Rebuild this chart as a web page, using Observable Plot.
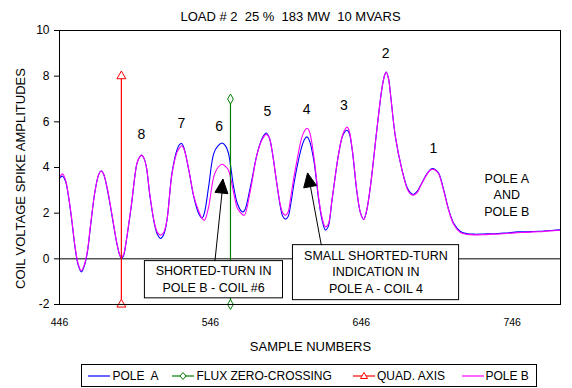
<!DOCTYPE html>
<html><head><meta charset="utf-8">
<script src="https://cdn.jsdelivr.net/npm/d3@7"></script>
<script src="https://cdn.jsdelivr.net/npm/@observablehq/plot@0.6"></script>
<style>
body{margin:0;background:#fff;font-family:"Liberation Sans",Arial,sans-serif;}
#wrap{position:relative;width:572px;height:388px;overflow:hidden;}
#wrap svg text{white-space:pre;}
#wrap svg [aria-label^="x-axis"] text{font-size:10.5px;}
#legend{position:absolute;left:81px;top:364px;width:456px;height:23px;border:1px solid #000;box-sizing:border-box;font-size:12px;background:#fff;}
.item{position:absolute;top:0;height:21px;display:flex;align-items:center;white-space:pre;}
.item svg{display:block;}
</style></head><body><div id="wrap"></div>
<script>
// ---- data ----
const samples = [446,448,450,452,454,456.5,458.5,460.5,462.5,464.5,466.5,469.5,472,473.5,475,477.5,480.5,484,486,487,488.5,490,493.5,497.3,499,500.5,502,503.5,506,509,511,513,515,517.2,520.5,523.8,525.5,527,528.5,531.7,535,538.2,540.5,542,544.8,548.2,551,553.7,556,558,561.4,564,567,568.5,572.5,577,580.5,583,585,586.8,589.7,592.4,594,595.8,597.5,599,601.4,603.4,606.5,608.5,610,611.5,614.5,617.8,620,622.2,624,626.6,631,634,636.6,638,640,643.2,645.5,647.6,649.5,652,656.5,659.8,661.5,662.5,664,665.3,668.6,673,676.5,678.5,680.5,683,685.3,689.7,692,693.6,695.5,697.4,700.7,704,707.3,711.7,716.2,721,727.3,733,738.3,744,749.3,755,760.3,767,774.7,777.5];
const poleA = [3.52,3.62,3.4,2.71,1.75,0.4,-0.3,-0.57,-0.3,0.3,1.4,2.95,3.7,3.85,3.75,3.1,2.0,0.67,0.15,0.02,0.15,0.67,2.27,4.17,4.45,4.54,4.4,4.05,2.71,1.5,1.05,0.89,1.05,1.69,3.74,4.76,5.0,5.05,4.85,3.88,2.71,1.99,1.79,2.0,3.15,4.61,4.95,5.07,4.95,4.61,3.15,2.4,2.06,2.1,3.15,4.61,5.3,5.51,5.3,4.76,3.44,2.27,1.85,1.74,1.85,2.3,3.3,4.02,4.9,5.25,5.34,5.2,4.32,2.57,1.7,1.26,1.4,2.57,4.61,5.45,5.63,5.5,4.76,2.86,2.0,1.72,2.1,3.15,5.77,7.52,8.05,8.18,7.9,7.23,5.34,3.88,3.1,2.9,2.82,2.95,3.22,3.74,3.92,3.95,3.88,3.74,3.0,2.13,1.55,1.2,1.1,1.08,1.09,1.1,1.12,1.14,1.18,1.18,1.2,1.22,1.26,1.27];
const poleB = [3.55,3.72,3.45,2.75,1.8,0.45,-0.25,-0.52,-0.25,0.35,1.45,2.95,3.7,3.85,3.75,3.15,2.05,0.7,0.15,0.05,0.2,0.7,2.3,4.17,4.45,4.54,4.4,4.05,2.75,1.55,1.15,1.04,1.15,1.7,3.7,4.65,4.85,4.95,4.8,3.9,2.75,2.1,1.76,1.69,2.27,3.59,4.0,4.14,4.05,3.88,2.9,2.2,1.95,1.91,3.0,4.6,5.25,5.45,5.3,4.76,3.44,2.35,2.0,1.91,2.05,2.6,3.6,4.32,5.3,5.62,5.72,5.6,4.5,2.65,1.8,1.4,1.5,2.6,4.61,5.5,5.77,5.6,4.8,2.9,2.0,1.72,2.1,3.15,5.77,7.52,8.05,8.18,7.9,7.23,5.34,3.88,3.05,2.85,2.79,2.9,3.2,3.72,3.9,3.92,3.86,3.7,2.95,2.1,1.5,1.15,1.07,1.05,1.06,1.08,1.09,1.12,1.14,1.16,1.18,1.2,1.24,1.25];
const fluxX = [559.3, 559.3];
const fluxY = [-2, 7];
const quadX = [487, 487];
const quadY = [-2, 8];
const xTicks = [446, 546, 646, 746];
const yTicks = [-2, 0, 2, 4, 6, 8, 10];
const xDomain = [446, 778];
const yDomain = [-2, 10];
const coilLabels = ["8","7","6","5","4","3","2","1"];
const coilX = [500.2, 526.7, 551.8, 583.7, 609.7, 634.4, 662.2, 693.8];
const coilY = [5.45, 5.92, 5.8, 6.47, 6.54, 6.72, 8.99, 4.83];
const noteTexts = ["SHORTED-TURN IN\nPOLE B - COIL #6", "SMALL SHORTED-TURN\nINDICATION IN\nPOLE A - COIL 4", "POLE A\nAND\nPOLE B"];
const noteX = [548.1, 655.7, 742.4];
const noteY = [-0.857, -0.54, 2.83];
const boxX1 = [502.6, 600.7];
const boxX2 = [594.1, 710.8];
const boxY1 = [-0.1, 0.6];
const boxY2 = [-1.73, -1.81];
const arrowFromX = [549.0, 619.5];
const arrowFromY = [-0.1, 0.6];
const arrowTipX = [554.6, 610.7];
const arrowTipY = [3.47, 3.74];
const titleText = "LOAD # 2  25 %  183 MW  10 MVARS";
const xLabel = "SAMPLE NUMBERS";
const yLabel = "COIL VOLTAGE SPIKE AMPLITUDES";
const legendNames = ["POLE  A", "FLUX ZERO-CROSSING", "QUAD. AXIS", "POLE B"];
const legendColors = ["#0000ff", "#008000", "#ff0000", "#ff00ff"];
const legendMarkers = [null, "diamond", "triangle", null];

// ---- build ----
const curve = samples.map((s, i) => ({s, a: poleA[i], b: poleB[i]}));
const flux = fluxX.map((x, i) => ({x, y: fluxY[i]}));
const quad = quadX.map((x, i) => ({x, y: quadY[i]}));
const coils = coilLabels.map((t, i) => ({t, x: coilX[i], y: coilY[i]}));
const boxes = boxX1.map((x1, i) => ({x1, x2: boxX2[i], y1: boxY1[i], y2: boxY2[i]}));
const notes = noteTexts.map((t, i) => ({t, x: noteX[i], y: noteY[i]}));
const arrows = arrowTipX.map((x, i) => ({x1: arrowFromX[i], y1: arrowFromY[i], x2: x, y2: arrowTipY[i]}));

const chart = Plot.plot({
  width: 572,
  height: 360,
  marginLeft: 59,
  marginRight: 12,
  marginTop: 30,
  marginBottom: 56,
  style: {fontFamily: "'Liberation Sans', Arial, sans-serif", fontSize: "12px", background: "white", color: "black", overflow: "visible"},
  x: {domain: xDomain, ticks: xTicks, tickSize: 0, tickPadding: 14, label: null, tickFormat: d => String(d)},
  y: {domain: yDomain, ticks: yTicks, tickSize: 5, tickPadding: 5, label: null, tickFormat: d => String(d)},
  marks: [
    Plot.ruleY([0], {stroke: "black"}),
    Plot.line(curve, {x: "s", y: "a", stroke: "#0000ff", strokeWidth: 1.1, curve: "catmull-rom"}),
    Plot.line(curve, {x: "s", y: "b", stroke: "#ff00ff", strokeWidth: 1.1, curve: "catmull-rom"}),
    Plot.line(quad, {x: "x", y: "y", stroke: "#ff0000", strokeWidth: 1.2}),
    Plot.line(flux, {x: "x", y: "y", stroke: "#008000", strokeWidth: 1.2}),
    Plot.dot(quad, {x: "x", y: "y", symbol: "triangle", r: 3.3, stroke: "#ff0000", fill: "white", strokeWidth: 1}),
    Plot.dot(flux, {x: "x", y: "y", symbol: "diamond", r: 3, stroke: "#008000", fill: "white", strokeWidth: 1}),
    Plot.rect(boxes, {x1: "x1", x2: "x2", y1: "y1", y2: "y2", fill: "white", stroke: "black", strokeWidth: 1}),
    Plot.link(arrows, {x1: "x1", y1: "y1", x2: "x2", y2: "y2", stroke: "black", strokeWidth: 1}),
    Plot.text(coils, {x: "x", y: "y", text: "t", fontSize: 14, fill: "black"}),
    Plot.text(notes, {x: "x", y: "y", text: "t", fontSize: 12.5, lineHeight: 1.3, fill: "black"}),
    Plot.text([titleText], {frameAnchor: "top", dx: -19.5, dy: -14, lineAnchor: "middle", textAnchor: "middle", fontSize: 13, fill: "black"}),
    Plot.text([xLabel], {frameAnchor: "bottom", dx: 0.5, dy: 42, lineAnchor: "middle", textAnchor: "middle", fontSize: 13, fill: "black"}),
    Plot.text([yLabel], {frameAnchor: "left", dx: -39, dy: 11, rotate: -90, lineAnchor: "middle", textAnchor: "middle", fontSize: 13, fill: "black"}),
    Plot.frame({stroke: "black"})
  ]
});

// filled arrowheads positioned through the plot's own scales
const sx = chart.scale("x"), sy = chart.scale("y");
const fx = sx.apply ? v => sx.apply(v) : d3.scaleLinear(sx.domain, sx.range);
const fy = sy.apply ? v => sy.apply(v) : d3.scaleLinear(sy.domain, sy.range);
arrows.forEach(a => {
  const tx = fx(a.x2), ty = fy(a.y2), bx = fx(a.x1), by = fy(a.y1);
  const len = Math.hypot(tx - bx, ty - by), ux = (tx - bx) / len, uy = (ty - by) / len;
  const hl = 14, hw = 6.5, cx = tx - ux * hl, cy = ty - uy * hl;
  d3.select(chart).append("polygon")
    .attr("points", [[tx, ty], [cx - uy * hw, cy + ux * hw], [cx + uy * hw, cy - ux * hw]].map(p => p.join(",")).join(" "))
    .attr("fill", "black").attr("stroke", "black");
});

const wrap = document.getElementById("wrap");
wrap.appendChild(chart);

// legend (HTML, below the SVG)
const legend = document.createElement("div");
legend.id = "legend";
const swatchLeft = [5.5, 89.5, 270.5, 379.5];
const textLeft = [30.5, 114.5, 295, 403.5];
legendNames.forEach((name, i) => {
  const sw = document.createElement("div");
  sw.className = "item"; sw.style.left = swatchLeft[i] + "px";
  let m = "";
  if (legendMarkers[i] === "diamond") m = `<path d="M11,1.5 L14,5 L11,8.5 L8,5 Z" fill="white" stroke="${legendColors[i]}"/>`;
  if (legendMarkers[i] === "triangle") m = `<path d="M11,1.5 L14.5,7.5 L7.5,7.5 Z" fill="white" stroke="${legendColors[i]}"/>`;
  sw.innerHTML = `<svg width="22" height="10"><line x1="0" x2="22" y1="5" y2="5" stroke="${legendColors[i]}" stroke-width="1.2"/>${m}</svg>`;
  legend.appendChild(sw);
  const tx = document.createElement("div");
  tx.className = "item"; tx.style.left = textLeft[i] + "px";
  tx.textContent = name;
  legend.appendChild(tx);
});
wrap.appendChild(legend);
</script>
</body></html>
